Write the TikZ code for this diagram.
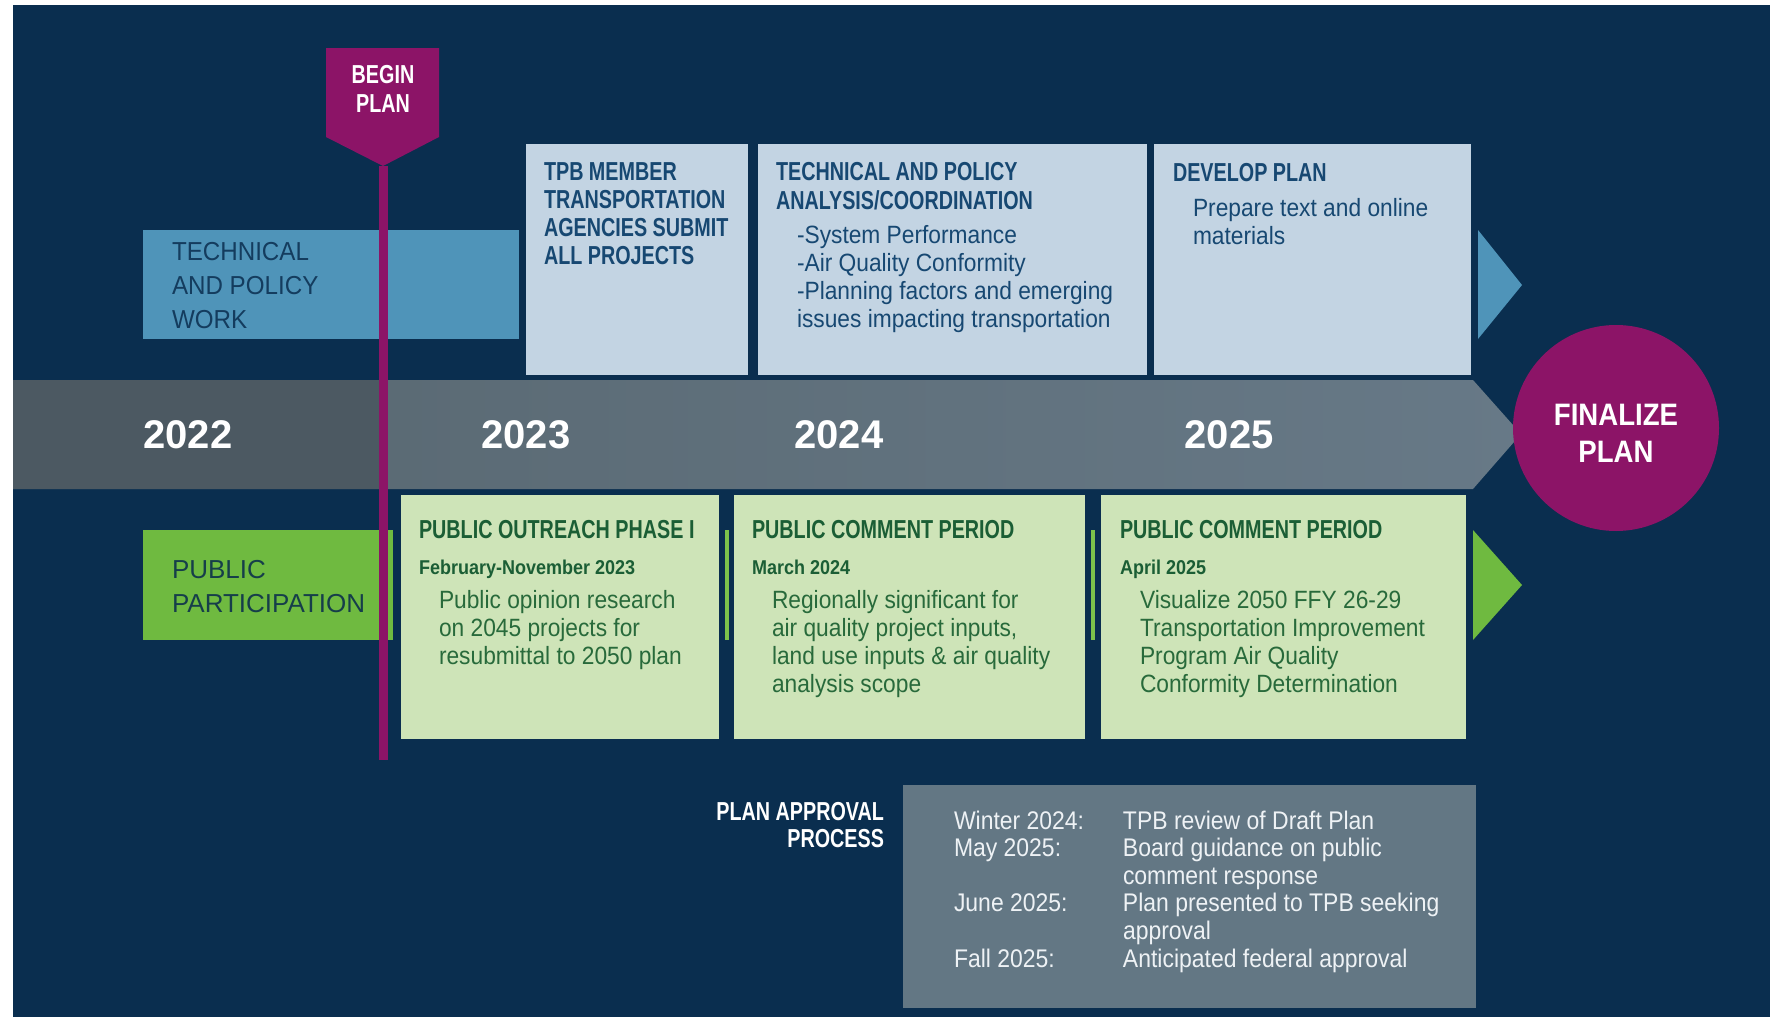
\documentclass[tikz,border=0pt]{standalone}
\usepackage{fontspec}
\setmainfont{Liberation Sans}
\newfontfamily\bodyf[FakeStretch=0.91]{Liberation Sans}
\newfontfamily\appf[FakeStretch=0.90]{Liberation Sans}
\newfontfamily\labf[FakeStretch=0.93]{Liberation Sans}
\newfontfamily\pplabf[FakeStretch=1.0]{Liberation Sans}
\newfontfamily\hdf[FakeStretch=0.76]{Liberation Sans}
\newfontfamily\subf[FakeStretch=0.90]{Liberation Sans}
\newfontfamily\finf[FakeStretch=0.89]{Liberation Sans}
\newcommand\TL[1]{\begin{tabular}[t]{@{}l@{}}#1\end{tabular}}
\newcommand\TR[1]{\begin{tabular}[t]{@{}r@{}}#1\end{tabular}}
\newcommand\TC[1]{\begin{tabular}[t]{@{}c@{}}#1\end{tabular}}
\definecolor{navy}{HTML}{0A2E4F}
\definecolor{bandL}{HTML}{4C5962}
\definecolor{bandA}{HTML}{57666F}
\definecolor{bandB}{HTML}{677987}
\definecolor{steel}{HTML}{4F94B9}
\definecolor{paleblue}{HTML}{C3D4E3}
\definecolor{bluetxt}{HTML}{174872}
\definecolor{labtxt}{HTML}{143C5E}
\definecolor{grn}{HTML}{6FBA40}
\definecolor{grnstrip}{HTML}{7DC24B}
\definecolor{palegrn}{HTML}{CEE4B8}
\definecolor{grntxt}{HTML}{1B5E35}
\definecolor{grnbody}{HTML}{286A3B}
\definecolor{pptxt}{HTML}{163E4A}
\definecolor{purp}{HTML}{8C1467}
\definecolor{slate}{HTML}{637784}
\definecolor{apptxt}{HTML}{EEF2F5}
\begin{document}
\begin{tikzpicture}[x=1pt,y=-1pt,
  box/.style={anchor=north west, inner sep=0pt, outer sep=0pt, draw=none},
  txt/.style={anchor=base west, inner sep=0pt, outer sep=0pt},
  hd/.style={txt, font={\hdf\bfseries\fontsize{26}{28}\selectfont}},
  sub/.style={txt, font={\subf\bfseries\fontsize{20}{24}\selectfont}},
  body/.style={txt, font={\bodyf\fontsize{25}{28}\selectfont}},
  lab/.style={txt, font={\labf\fontsize{26}{34}\selectfont}},
  yr/.style={anchor=base, inner sep=0pt, text=white, font={\bfseries\fontsize{40}{42}\selectfont}}
]
\useasboundingbox (0,0) rectangle (1770,1017);
% background
\fill[white] (0,0) rectangle (1770,1017);
\fill[navy] (13,5) rectangle (1770,1017);

% timeline band
\coordinate (bandNW) at (13,380);
\coordinate (bandNE) at (1473,380);
\coordinate (bandTip) at (1521,434);
\coordinate (bandSE) at (1473,489);
\coordinate (bandSW) at (13,489);
\shade[left color=bandA, right color=bandB] (bandNW) -- (bandNE) -- (bandTip) -- (bandSE) -- (bandSW) -- cycle;
\fill[bandL] (13,380) rectangle (379,489);

% technical row
\node[box, fill=steel, minimum width=376pt, minimum height=109pt] (techwork) at (143,230) {};
\coordinate (btA) at (1478,230);
\coordinate (btB) at (1522,285);
\coordinate (btC) at (1478,339);
\fill[steel] (btA) -- (btB) -- (btC) -- cycle;
\node[box, fill=paleblue, minimum width=222pt, minimum height=231pt] (tpb) at (526,144) {};
\node[box, fill=paleblue, minimum width=389pt, minimum height=231pt] (analysis) at (758,144) {};
\node[box, fill=paleblue, minimum width=317pt, minimum height=231pt] (develop) at (1154,144) {};

% public participation row
\node[box, fill=grn, minimum width=250pt, minimum height=110pt] (pubpart) at (143,530) {};
\node[box, fill=grnstrip, minimum width=4pt, minimum height=110pt] (stripA) at (725,530) {};
\node[box, fill=grnstrip, minimum width=4pt, minimum height=110pt] (stripB) at (1091,530) {};
\coordinate (gtA) at (1473,530);
\coordinate (gtB) at (1522,585);
\coordinate (gtC) at (1473,640);
\fill[grn] (gtA) -- (gtB) -- (gtC) -- cycle;
\node[box, fill=palegrn, minimum width=318pt, minimum height=244pt] (outreach) at (401,495) {};
\node[box, fill=palegrn, minimum width=351pt, minimum height=244pt] (commentA) at (734,495) {};
\node[box, fill=palegrn, minimum width=365pt, minimum height=244pt] (commentB) at (1101,495) {};

% finalize
\node[circle, fill=purp, minimum size=206pt, inner sep=0pt] (finalize) at (1616,428) {};

% begin plan marker
\coordinate (bpTip) at (383,166);
\coordinate (bpEnd) at (383,760);
\draw[purp, line width=9pt] (bpTip) -- (bpEnd);
\fill[purp] (326,48) -- (439,48) -- (439,137) -- (bpTip) -- (326,137) -- cycle;

% approval box
\node[box, fill=slate, minimum width=573pt, minimum height=223pt] (approval) at (903,785) {};

% ---- texts ----
\node[hd, anchor=base, text=white, font={\hdf\bfseries\fontsize{26}{29}\selectfont}] (begintxt) at (383,83) {\TC{BEGIN\\PLAN}};

\node[lab, text=labtxt] (techlab) at (172,260) {\TL{TECHNICAL\\AND POLICY\\WORK}};
\node[lab, text=pptxt, font={\pplabf\fontsize{26}{34}\selectfont}] (pplab) at (172,578) {\TL{PUBLIC\\PARTICIPATION}};

\node[hd, text=bluetxt] (tpbtxt) at (544,180) {\TL{TPB MEMBER\\TRANSPORTATION\\AGENCIES SUBMIT\\ALL PROJECTS}};
\node[hd, text=bluetxt, font={\hdf\bfseries\fontsize{26}{29}\selectfont}] (anahd) at (776,180) {\TL{TECHNICAL AND POLICY\\ANALYSIS/COORDINATION}};
\node[body, text=bluetxt] (anabody) at (797,243) {\TL{-System Performance\\-Air Quality Conformity\\-Planning factors and emerging\\issues impacting transportation}};
\node[hd, text=bluetxt] (devhd) at (1173,181) {DEVELOP PLAN};
\node[body, text=bluetxt] (devbody) at (1193,216) {\TL{Prepare text and online\\materials}};

\node[yr] (y2022) at (188,448) {2022};
\node[yr] (y2023) at (526,448) {2023};
\node[yr] (y2024) at (839,448) {2024};
\node[yr] (y2025) at (1229,448) {2025};

\node[anchor=base, inner sep=0pt, text=white, font={\finf\bfseries\fontsize{31}{37}\selectfont}] (fintxt) at (1616,425) {\TC{FINALIZE\\PLAN}};

\node[hd, text=grntxt] (outhd) at (419,538) {PUBLIC OUTREACH PHASE I};
\node[sub, text=grntxt] (outsub) at (419,574) {February-November 2023};
\node[body, text=grnbody] (outbody) at (439,608) {\TL{Public opinion research\\on 2045 projects for\\resubmittal to 2050 plan}};

\node[hd, text=grntxt] (caHd) at (752,538) {PUBLIC COMMENT PERIOD};
\node[sub, text=grntxt] (caSub) at (752,574) {March 2024};
\node[body, text=grnbody] (caBody) at (772,608) {\TL{Regionally significant for\\air quality project inputs,\\land use inputs \& air quality\\analysis scope}};

\node[hd, text=grntxt] (cbHd) at (1120,538) {PUBLIC COMMENT PERIOD};
\node[sub, text=grntxt] (cbSub) at (1120,574) {April 2025};
\node[body, text=grnbody] (cbBody) at (1140,608) {\TL{Visualize 2050 FFY 26-29\\Transportation Improvement\\Program Air Quality\\Conformity Determination}};

\node[hd, anchor=base east, text=white, font={\hdf\bfseries\fontsize{26}{27}\selectfont}] (apphd) at (884,820) {\TR{PLAN APPROVAL\\PROCESS}};
\node[body, text=apptxt, font={\appf\fontsize{25.5}{27.6}\selectfont}] (applist) at (954,829) {\begin{tabular}[t]{@{}p{169pt}@{}l@{}}
Winter 2024: & TPB review of Draft Plan\\
May 2025: & Board guidance on public\\
 & comment response\\
June 2025: & Plan presented to TPB seeking\\
 & approval\\
Fall 2025: & Anticipated federal approval
\end{tabular}};
\end{tikzpicture}
\end{document}
